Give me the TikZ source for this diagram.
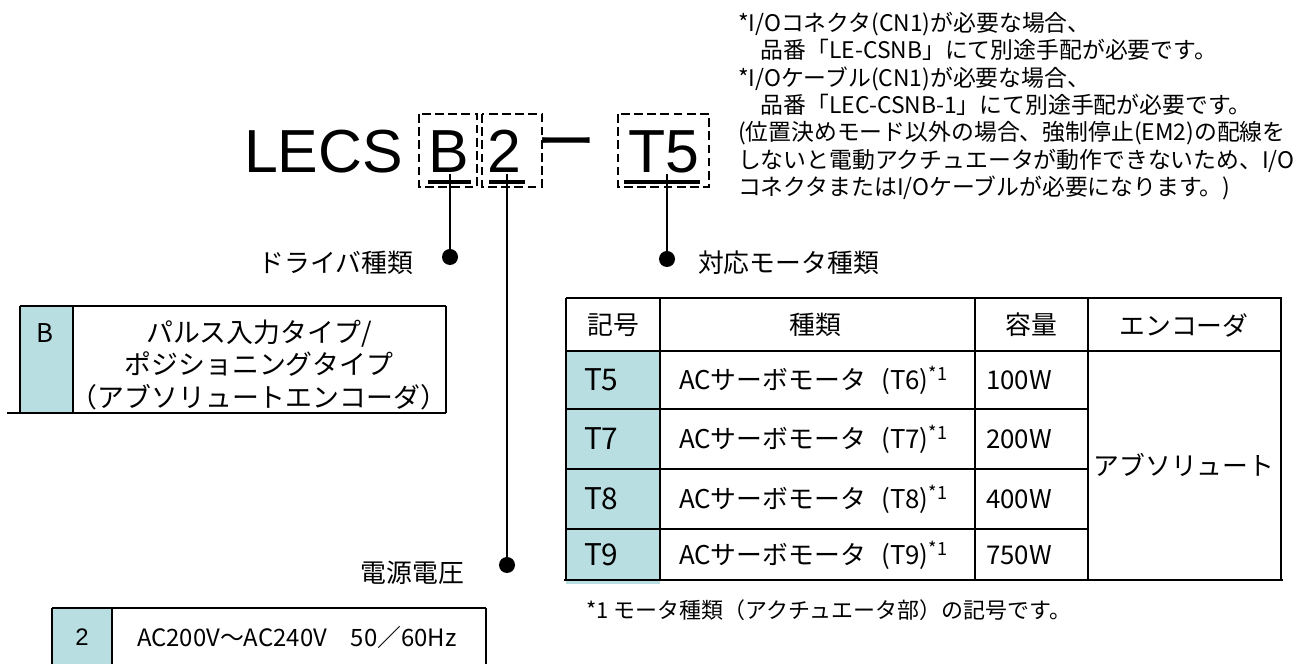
\documentclass[tikz,border=0pt]{standalone}
\usepackage{fontspec}
\setmainfont{Liberation Sans}
\newfontfamily\jp{Noto Sans CJK JP}
\definecolor{cellblue}{RGB}{184,222,226}
\tikzset{
  codebox/.style={draw, line width=0.85pt, dash pattern=on 5pt off 2.5pt},
  ulbar/.style={line width=2.3pt},
  leader/.style={line width=1.1pt},
  leaddot/.style={circle, fill=black, minimum size=3.2mm, inner sep=0pt},
  rule/.style={line width=0.8pt},
  thickrule/.style={line width=1.4pt},
  partfont/.style={font=\fontsize{34.6pt}{40pt}\selectfont},
  labelfont/.style={font=\jp\fontsize{14.7pt}{17pt}\selectfont},
  cellfont/.style={font=\jp\fontsize{14.7pt}{17pt}\selectfont},
  codefont/.style={font=\jp\fontsize{17pt}{20pt}\selectfont},
  notefont/.style={font=\jp\fontsize{13pt}{15.6pt}\selectfont},
}
\begin{document}
\begin{tikzpicture}[x=0.2mm, y=-0.2mm, every node/.style={inner sep=0pt, outer sep=0pt}]
        \useasboundingbox (0,0) rectangle (1306,664);
        % part number
        \node[partfont, anchor=base west] (lecs)  at (244,173) {LECS};     %
        \node[partfont, anchor=base west] (codeB) at (428,173) {B};        %driver
        \node[partfont, anchor=base west] (code2) at (487,173) {2};        %voltage
        \node[font=\jp\fontsize{34pt}{34pt}\selectfont] (bar) at (566,151) {ー};
        \node[partfont, anchor=base west] (codeT) at (628,173) {T5};       %motor
        \draw [codebox]  (419,114) rectangle (477,187);                   %
        \draw [codebox]  (482,114) rectangle (542,187);                   %
        \draw [codebox]  (618,114) rectangle (709,187);                   %
        \draw [ulbar]    (428,182) -- (471,182);                          %
        \draw [ulbar]    (489,182) -- (525,182);                          %
        \draw [ulbar]    (624,182) -- (700,182);                          %
        % leaders
        \coordinate (topB) at (450,174);
        \coordinate (top2) at (507,174);
        \coordinate (topT) at (667,174);
        \node[leaddot] (dotB) at (450,257) {};
        \node[leaddot] (dot2) at (507,565) {};
        \node[leaddot] (dotT) at (667,259) {};
        \draw [leader] (topB) -- (dotB.center);
        \draw [leader] (top2) -- (dot2.center);
        \draw [leader] (topT) -- (dotT.center);
        \node[labelfont, anchor=east] (lblB) at (413,263) {ドライバ種類};
        \node[labelfont, anchor=east] (lbl2) at (464,573) {電源電圧};
        \node[labelfont, anchor=west] (lblT) at (698,263) {対応モータ種類};
        % notes
        \node[notefont, anchor=north west, align=left] (notes) at (738,12)
          {*I/Oコネクタ(CN1)が必要な場合、\\
           　品番「LE-CSNB」にて別途手配が必要です。\\
           *I/Oケーブル(CN1)が必要な場合、\\
           　品番「LEC-CSNB-1」にて別途手配が必要です。\\
           (位置決めモード以外の場合、強制停止(EM2)の配線を\\
           しないと電動アクチュエータが動作できないため、I/O\\
           コネクタまたはI/Oケーブルが必要になります。)};
        % driver table
        \fill [cellblue]   (20,306) rectangle (73,413);                   %B
        \draw [rule]       (20,306) -- (446,306);                         %
        \draw [thickrule]  (7,413) -- (446,413);                          %
        \draw [rule]       (20,306) -- (20,413);                          %
        \draw [rule]       (73,306) -- (73,413);                          %
        \draw [rule]       (446,306) -- (446,413);                        %
        \node[cellfont] (symB) at (45,333) {B};
        \node[font=\jp\fontsize{15.3pt}{18.7pt}\selectfont, align=center] (descB) at (259,365)
          {パルス入力タイプ/\\ポジショニングタイプ\\（アブソリュートエンコーダ）};
        % voltage table
        \fill [cellblue]   (52,608) rectangle (112,664);                  %2
        \draw [rule]       (52,608) -- (486,608);                         %
        \draw [rule]       (52,608) -- (52,664);                          %
        \draw [rule]       (112,608) -- (112,664);                        %
        \draw [rule]       (486,608) -- (486,664);                        %
        \node[font=\fontsize{13.6pt}{16pt}\selectfont] (sym2) at (82,637) {2};
        \node[font=\jp\fontsize{13.6pt}{16pt}\selectfont, anchor=west] (desc2) at (137,637)
          {AC200V～AC240V　50／60Hz};
        % motor table
        \fill [cellblue]   (566,351) rectangle (660,584);                 %T5..T9
        \draw [thickrule]  (566,298) -- (1282,298);                       %
        \draw [rule, line width=1.1pt] (566,351) -- (1281,351);           %
        \draw [rule]       (566,409) -- (1088,409);                       %
        \draw [rule]       (566,469) -- (1088,469);                       %
        \draw [rule]       (566,529) -- (1088,529);                       %
        \draw [thickrule]  (564,580) -- (1283,580);                       %
        \draw [rule]       (566,298) -- (566,580);                        %
        \draw [rule]       (660,298) -- (660,580);                        %
        \draw [rule]       (975,298) -- (975,580);                        %
        \draw [rule]       (1088,298) -- (1088,580);                      %
        \draw [rule]       (1281,298) -- (1281,580);                      %
        \node[cellfont] (hdSym)  at (613,325)  {記号};
        \node[cellfont] (hdType) at (815,325)  {種類};
        \node[cellfont] (hdCap)  at (1031,325) {容量};
        \node[cellfont] (hdEnc)  at (1184,325) {エンコーダ};
        \node[codefont, anchor=west] (symT5) at (584,380) {T5};
        \node[codefont, anchor=west] (symT7) at (584,439) {T7};
        \node[codefont, anchor=west] (symT8) at (584,499) {T8};
        \node[codefont, anchor=west] (symT9) at (584,555) {T9};
        \node[cellfont, anchor=west] (typeT5) at (679,380) {ACサーボモータ\hspace{0.6em}(T6)\textsuperscript{*1}};
        \node[cellfont, anchor=west] (typeT7) at (679,439) {ACサーボモータ\hspace{0.6em}(T7)\textsuperscript{*1}};
        \node[cellfont, anchor=west] (typeT8) at (679,499) {ACサーボモータ\hspace{0.6em}(T8)\textsuperscript{*1}};
        \node[cellfont, anchor=west] (typeT9) at (679,555) {ACサーボモータ\hspace{0.6em}(T9)\textsuperscript{*1}};
        \node[cellfont, anchor=west] (capT5) at (986,380) {100W};
        \node[cellfont, anchor=west] (capT7) at (986,439) {200W};
        \node[cellfont, anchor=west] (capT8) at (986,499) {400W};
        \node[cellfont, anchor=west] (capT9) at (986,555) {750W};
        \node[cellfont] (encAbs) at (1184,465) {アブソリュート};
        \node[font=\jp\fontsize{12.5pt}{15pt}\selectfont, anchor=west] (foot) at (586,610)
          {*1 モータ種類（アクチュエータ部）の記号です。};
\end{tikzpicture}
\end{document}
